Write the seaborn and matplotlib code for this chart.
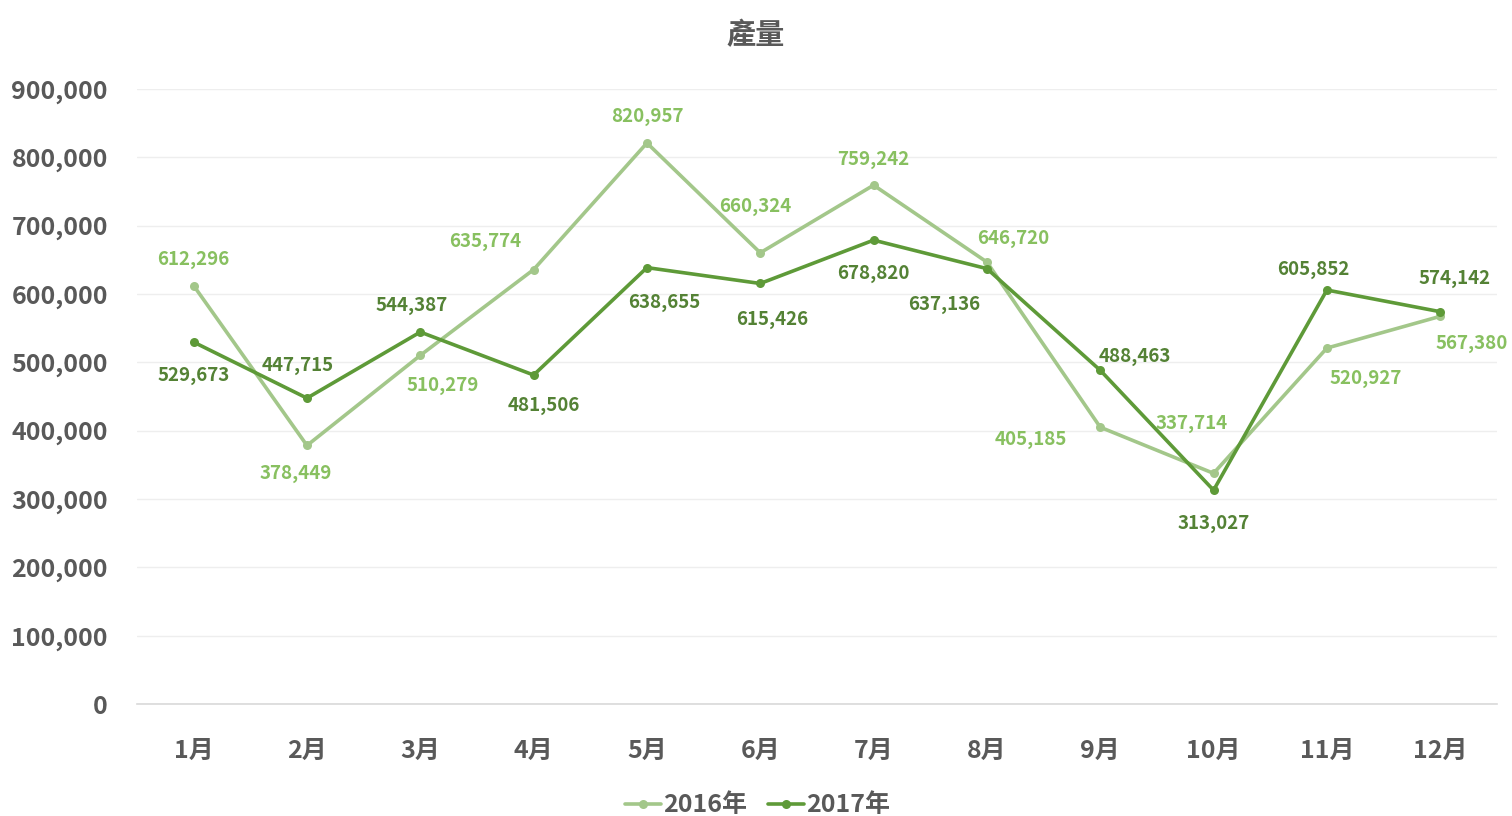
import matplotlib
matplotlib.use("Agg")
import matplotlib.pyplot as plt
import seaborn as sns
import pandas as pd
from matplotlib.ticker import FuncFormatter
from matplotlib.lines import Line2D

months = ["1月", "2月", "3月", "4月", "5月", "6月", "7月", "8月", "9月", "10月", "11月", "12月"]
y2016 = [612296, 378449, 510279, 635774, 820957, 660324, 759242, 646720, 405185, 337714, 520927, 567380]
y2017 = [529673, 447715, 544387, 481506, 638655, 615426, 678820, 637136, 488463, 313027, 605852, 574142]
series_names = ["2016年", "2017年"]
title = "產量"

# label offsets in pixels (dx, dy) - layout only
off2016 = [(0, 26), (-11, -28), (22, -30), (-48, 28), (0, 26), (-5, 46), (0, 26), (26, 24), (-69, -12), (-22, 50), (39, -30), (32, -27)]
off2017 = [(0, -33), (-9, 33), (-9, 27), (10, -30), (17, -35), (12, -36), (0, -33), (-43, -36), (35, 14), (0, -33), (-14, 21), (14, 33)]

c2016_line = "#a3c78a"
c2017_line = "#5e9a38"
c2016_lab = "#88c060"
c2017_lab = "#548235"
grey = "#595959"

sns.set_theme(style="white")
plt.rcParams['font.family'] = ['Noto Sans CJK TC', 'DejaVu Sans']

df = pd.DataFrame({
    "month": months * 2,
    "value": y2016 + y2017,
    "series": [series_names[0]] * 12 + [series_names[1]] * 12,
})
df["x"] = list(range(12)) * 2

fig = plt.figure(figsize=(15.12, 8.16), dpi=100)
ax = fig.add_axes([0.0906, 0.137, 0.8994, 0.754])

sns.lineplot(data=df, x="x", y="value", hue="series", palette=[c2016_line, c2017_line],
             marker="o", markersize=6.5, markeredgewidth=0, linewidth=2.6, ax=ax, legend=False)

ax.set_xlim(-0.5, 11.5)
ax.set_ylim(0, 900000)
ax.set_yticks(range(0, 900001, 100000))
ax.yaxis.set_major_formatter(FuncFormatter(lambda v, p: f"{int(v):,}"))
ax.set_xticks(range(12))
ax.set_xticklabels(months)
ax.set_xlabel("")
ax.set_ylabel("")
ax.tick_params(axis="both", length=0, labelsize=18, colors=grey)
ax.tick_params(axis="x", pad=25)
ax.tick_params(axis="y", pad=21)
for lab in ax.get_xticklabels() + ax.get_yticklabels():
    lab.set_fontweight("bold")
ax.grid(axis="y", color="#eeeeee", linewidth=1)
for s in ["top", "right", "left"]:
    ax.spines[s].set_visible(False)
ax.spines["bottom"].set_color("#d9d9d9")
ax.spines["bottom"].set_linewidth(1.2)

for i in range(12):
    ax.annotate(f"{y2016[i]:,}", (i, y2016[i]), xytext=off2016[i], textcoords="offset pixels",
                ha="center", va="center", fontsize=13.5, fontweight="bold", color=c2016_lab)
    ax.annotate(f"{y2017[i]:,}", (i, y2017[i]), xytext=off2017[i], textcoords="offset pixels",
                ha="center", va="center", fontsize=13.5, fontweight="bold", color=c2017_lab)

fig.text(0.5, 0.957, title, ha="center", va="center", fontsize=21, fontweight="bold", color=grey)

handles = [Line2D([0], [0], color=c2016_line, lw=2.6, marker="o", markersize=6.5, markeredgewidth=0),
           Line2D([0], [0], color=c2017_line, lw=2.6, marker="o", markersize=6.5, markeredgewidth=0)]
leg = fig.legend(handles, series_names, loc="center", bbox_to_anchor=(0.501, 0.013), ncol=2, frameon=False,
                 handlelength=1.45, handletextpad=0.1, columnspacing=0.8,
                 prop={"size": 18, "weight": "bold"})
for t in leg.get_texts():
    t.set_color(grey)

fig.savefig("out.png", dpi=100)
